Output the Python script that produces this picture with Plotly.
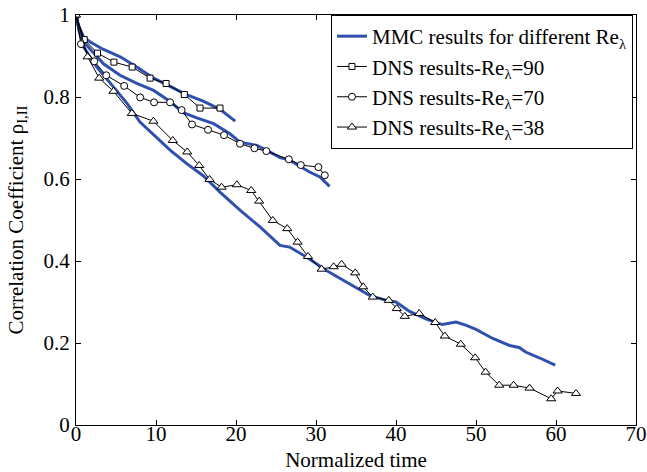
import plotly.graph_objects as go

# MMC (blue) curves
mmc90_x = [0, 0.3, 0.95, 1.78, 3.44, 5.52, 7.6, 9.7, 11.76, 13.8, 15.9, 18.0, 19.9]
mmc90_y = [1.0, 0.975, 0.946, 0.934, 0.916, 0.898, 0.873, 0.846, 0.826, 0.806, 0.79, 0.77, 0.741]

mmc70_x = [0, 0.4, 0.95, 2.2, 3.44, 5.5, 7.6, 9.7, 11.76, 13.4, 15.1, 17.2, 19.2, 20.5, 22.6, 24.2, 25.5,
           26.7, 28.4, 29.2, 30.5, 31.7]
mmc70_y = [1.0, 0.965, 0.934, 0.906, 0.881, 0.853, 0.833, 0.816, 0.789, 0.762, 0.749, 0.735, 0.711, 0.69,
           0.682, 0.666, 0.652, 0.646, 0.625, 0.617, 0.605, 0.582]

mmc38_x = [0, 0.4, 0.95, 2.6, 4.7, 6.4, 8.0, 9.7, 11.8, 13.8, 15.9, 18.0, 20.5, 23.0, 25.5, 26.7, 28.8,
           31.3, 34.6, 36.7, 38.8, 40.0, 41.7, 43.8, 45.8, 47.5, 48.8, 50.0, 52.1, 54.2, 55.4, 56.2, 57.9, 59.9]
mmc38_y = [1.0, 0.96, 0.922, 0.873, 0.824, 0.784, 0.739, 0.708, 0.67, 0.638, 0.608, 0.568, 0.524, 0.483,
           0.438, 0.434, 0.41, 0.377, 0.341, 0.316, 0.304, 0.30, 0.277, 0.258, 0.245, 0.251, 0.243, 0.233,
           0.211, 0.194, 0.189, 0.178, 0.164, 0.146]

# DNS (markers)
dns90_x = [0, 1.03, 2.69, 4.74, 7.02, 9.26, 11.26, 13.54, 15.5, 18.0]
dns90_y = [1.0, 0.94, 0.907, 0.885, 0.873, 0.846, 0.833, 0.806, 0.773, 0.773]

dns70_x = [0, 0.62, 2.28, 3.78, 6.02, 8.02, 9.76, 11.76, 13.2, 14.5, 16.5, 18.5, 20.5, 22.3, 23.8,
           26.6, 28.1, 30.3, 31.1]
dns70_y = [1.0, 0.929, 0.887, 0.853, 0.827, 0.799, 0.787, 0.787, 0.768, 0.733, 0.72, 0.707, 0.686,
           0.675, 0.668, 0.648, 0.634, 0.629, 0.609]

dns38_x = [0, 1.45, 2.9, 4.69, 6.98, 9.68, 12.1, 13.9, 15.4, 16.7, 18.2, 20.1, 21.9, 22.9, 24.6, 26.4,
           27.7, 29.0, 30.7, 32.2, 33.2, 34.9, 35.9, 37.1, 39.1, 40.1, 41.1, 42.9, 44.9, 46.1, 48.1,
           49.9, 51.2, 52.9, 54.7, 56.7, 59.4, 60.2, 62.5]
dns38_y = [1.0, 0.898, 0.846, 0.814, 0.76, 0.741, 0.694, 0.666, 0.633, 0.599, 0.58, 0.586, 0.572, 0.546,
           0.499, 0.479, 0.446, 0.411, 0.38, 0.386, 0.392, 0.371, 0.337, 0.312, 0.304, 0.284, 0.265,
           0.272, 0.25, 0.217, 0.197, 0.164, 0.129, 0.097, 0.097, 0.09, 0.064, 0.083, 0.077]

x_ticks = [0, 10, 20, 30, 40, 50, 60, 70]
y_ticks = [0, 0.2, 0.4, 0.6, 0.8, 1]
y_tick_labels = ["0", "0.2", "0.4", "0.6", "0.8", "1"]

BLUE = "#3050AE"
FONT = "Liberation Serif"

fig = go.Figure()
for i, (xs, ys) in enumerate([(mmc90_x, mmc90_y), (mmc70_x, mmc70_y), (mmc38_x, mmc38_y)]):
    fig.add_trace(go.Scatter(x=xs, y=ys, mode="lines", line=dict(color=BLUE, width=3),
                             name="MMC results for different Re<sub>λ</sub>",
                             legendgroup="mmc", showlegend=(i == 0)))

for xs, ys, sym, size, nm in [
    (dns90_x, dns90_y, "square", 6, "DNS results-Re<sub>λ</sub>=90"),
    (dns70_x, dns70_y, "circle", 7, "DNS results-Re<sub>λ</sub>=70"),
    (dns38_x, dns38_y, "triangle-up", 8, "DNS results-Re<sub>λ</sub>=38"),
]:
    fig.add_trace(go.Scatter(x=xs, y=ys, mode="lines+markers", name=nm,
                             line=dict(color="black", width=1),
                             marker=dict(symbol=sym, size=size, color="white",
                                         line=dict(color="black", width=1))))

axis_common = dict(showline=True, linecolor="black", linewidth=1, mirror="ticks",
                   ticks="inside", ticklen=5, tickcolor="black", showgrid=False, zeroline=False,
                   ticklabeloverflow="allow",
                   tickfont=dict(family=FONT, size=21, color="black"))

fig.update_xaxes(range=[0, 70], tickvals=x_ticks, ticklabelstandoff=-10,
                 title=dict(text="Normalized time", font=dict(family=FONT, size=21, color="black"),
                            standoff=12),
                 **axis_common)
fig.update_yaxes(range=[0, 1], tickvals=y_ticks, ticktext=y_tick_labels, ticklabelstandoff=1,
                 title=dict(text="Correlation Coefficient ρ<sub>I,II</sub>",
                            font=dict(family=FONT, size=21, color="black"), standoff=14),
                 **axis_common)

fig.update_layout(
    width=647, height=472,
    margin=dict(l=76, r=11, t=15, b=47, autoexpand=False),
    plot_bgcolor="white", paper_bgcolor="white",
    font=dict(family=FONT, size=21, color="black"),
    legend=dict(x=0.9946, xanchor="right", y=1, yanchor="top", bgcolor="white",
                bordercolor="black", borderwidth=1, tracegroupgap=0,
                font=dict(family=FONT, size=21, color="black")),
)

fig.write_html("out.html", config={"displayModeBar": False},
               post_script="document.body.style.margin='0';document.body.style.overflow='hidden';")
